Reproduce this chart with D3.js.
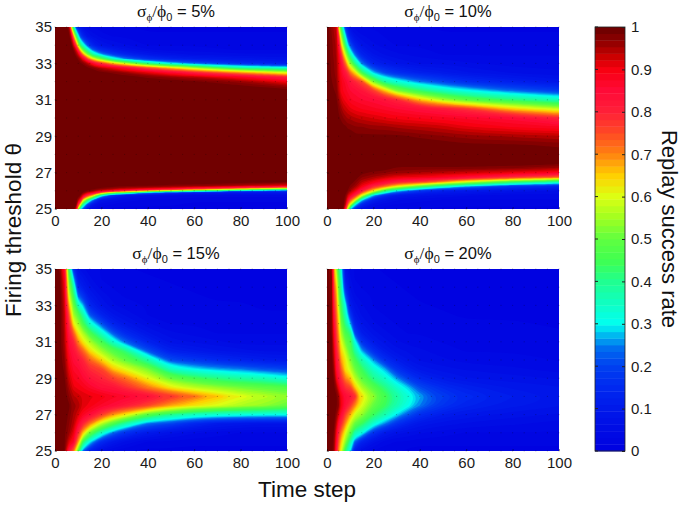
<!DOCTYPE html>
<html><head><meta charset="utf-8">
<script src="https://cdn.jsdelivr.net/npm/d3@7/dist/d3.min.js"></script>
<style>
html,body{margin:0;padding:0;background:#fff}
text{font-family:"Liberation Sans",Arial,sans-serif;fill:#111}
.axis text{font-size:15px;fill:#1a1a1a;font-family:"Liberation Sans",Arial,sans-serif}
</style></head><body><svg id="c" width="685" height="508"></svg>
<script>
// Replay success rate in percent. Each inner array is one time-step column, bottom row first.
const thetaA=[25,25.25,25.5,25.75,25.9,26,26.1,26.2,26.3,26.5,27,31.5,31.75,32,32.25,32.5,32.75,33,33.25,33.5,33.75,34,34.5,35];
const timeA=[0,5,6,7,8,9,10,11,12,14,16,18,20,25,30,40,50,60,80,100];
const valuesA=[
[100,100,100,100,100,100,100,100,100,100,100,100,100,100,100,100,100,100,100,100,100,100,100,100],
[100,100,100,100,100,100,100,100,100,100,100,100,100,100,100,100,100,100,100,100,100,100,100,100],
[100,100,100,100,100,100,100,100,100,100,100,100,100,100,100,100,100,100,100,100,100,100,100,96],
[100,100,100,100,100,100,100,100,100,100,100,100,100,100,100,100,100,100,100,100,100,100,92,62],
[100,100,100,100,100,100,100,100,100,100,100,100,100,100,100,100,100,100,100,100,98,92,68,38],
[92,100,100,100,100,100,100,100,100,100,100,100,100,100,100,100,100,100,100,97,92,78,48,20],
[55,80,95,100,100,100,100,100,100,100,100,100,100,100,100,100,100,100,98,92,78,58,32,12],
[30,60,87,98,100,100,100,100,100,100,100,100,100,100,100,100,100,99,95,82,62,42,20,8],
[22,40,65,91,98,100,100,100,100,100,100,100,100,100,100,100,100,98,90,70,50,35,14,6],
[8,20,45,78,93,98,100,100,100,100,100,100,100,100,100,100,99,94,76,52,36,22,8,4],
[4,10,28,68,89,97,99,100,100,100,100,100,100,100,100,100,98,88,64,40,25,14,6,3],
[3,6,15,50,83,93,98,100,100,100,100,100,100,100,100,100,96,82,56,32,19,10,5,3],
[2,4,8,33,70,90,97,99,100,100,100,100,100,100,100,99,94,78,50,27,15,8,4,2],
[1,3,6,18,50,83,94,98,100,100,100,100,100,100,100,98,90,66,34,19,11,6,3,2],
[1,2,4,10,45,76,92,97,99,100,100,100,100,100,100,96,86,58,26,14,8,5,3,2],
[1,2,3,6,26,62,87,96,99,100,100,100,100,100,98,91,75,40,17,9,5,3,2,1],
[1,2,3,5,18,50,82,94,98,100,100,100,100,100,96,86,66,30,13,7,4,3,2,1],
[1,1,2,4,12,41,75,91,98,100,100,100,100,99,94,80,56,24,11,6,4,3,2,1],
[1,1,2,4,9,25,60,84,95,100,100,100,99,96,88,68,38,16,9,5,3,2,2,1],
[1,1,2,4,9,20,45,75,92,99,100,100,96,90,80,59,33,12,7,5,3,2,2,1]];

const thetaB=[25,25.25,25.5,25.75,26,26.25,26.5,26.75,27,27.25,27.5,28,28.5,29,29.5,30,30.5,31,31.5,32,32.5,33,33.5,34,34.5,35];
const timeB=[0,4,5,6,7,8,9,10,12,15,20,25,30,40,50,60,80,100];
const valuesB=[
[100,100,100,100,100,100,100,100,100,100,100,100,100,100,100,100,100,100,100,100,100,100,100,100,100,100],
[100,100,100,100,100,100,100,100,100,100,100,100,100,100,100,100,100,99,98,97,96,96,95,95,94,93],
[100,100,100,100,100,100,100,100,100,100,100,100,100,100,100,99,98,96,94,93,92,91,90,85,78,62],
[100,100,100,100,100,100,100,100,100,100,100,100,100,100,100,98,96,93,90,90,88,86,80,68,56,45],
[98,100,100,100,100,100,100,100,100,100,100,100,100,100,99,97,94,91,89,88,85,79,68,55,43,30],
[80,93,96,98,100,100,100,100,100,100,100,100,100,100,99,96,93,90,88,87,82,72,57,42,30,17],
[55,72,86,93,98,100,100,100,100,100,100,100,100,100,98,95,92,89,87,85,78,62,47,30,18,10],
[30,60,75,89,95,98,100,100,100,100,100,100,100,100,98,95,91,88,86,83,72,54,37,22,12,6],
[15,32,62,80,91,96,98,100,100,100,100,100,100,99,97,94,90,87,85,80,64,41,24,13,7,4],
[6,14,30,60,81,90,94,97,99,100,100,100,100,99,97,93,89,86,83,75,45,25,13,8,5,3],
[3,6,12,28,62,80,90,95,98,100,100,100,100,99,96,92,88,85,77,52,28,13,8,5,4,3],
[2,4,7,16,42,72,86,93,97,100,100,100,100,99,96,91,87,83,66,38,20,10,6,4,3,2],
[2,3,5,10,30,62,81,91,96,98,100,100,100,99,95,90,86,80,53,33,16,8,5,3,2,2],
[2,2,4,7,18,48,78,90,95,98,100,100,100,98,94,89,84,66,43,25,12,6,4,3,2,2],
[1,2,3,6,12,36,70,88,94,98,100,100,100,97,93,88,82,56,36,20,10,6,3,2,2,1],
[1,2,3,5,10,28,60,85,93,98,100,100,99,96,91,87,78,49,31,16,8,5,3,2,2,1],
[1,2,3,4,8,18,45,78,91,97,100,100,99,95,89,85,65,42,24,12,6,4,3,2,2,1],
[1,2,3,4,6,14,38,73,88,95,99,100,98,94,88,80,58,36,19,9,5,4,3,2,2,1]];

const thetaC=[25,25.5,26,26.5,27,27.5,28,28.5,29,29.5,30,30.5,31,31.5,32,32.5,33,33.5,34,34.5,35];
const timeC=[0,2,4,6,8,10,12,15,20,25,30,40,50,60,70,80,90,100];
const valuesC=[
[100,100,100,100,100,100,100,100,100,100,100,100,100,100,100,100,100,100,100,100,100],
[100,100,100,100,100,100,100,100,100,100,100,100,100,100,100,100,100,100,99,99,98],
[99,99,99,100,100,100,100,100,99,98,97,96,95,95,94,94,93,92,91,89,86],
[82,92,96,97,98,99,97,95,93,91,89,87,85,82,79,75,68,60,55,50,43],
[72,87,91,94,95,96,94,91,89,87,85,83,80,73,62,55,50,44,38,28,17],
[48,68,79,87,92,95,93,90,88,86,83,78,70,62,55,48,36,24,15,10,7],
[24,44,66,80,88,92,92,89,86,83,80,73,63,56,46,38,28,18,11,8,5],
[12,30,50,71,85,90,91,87,83,79,73,64,56,46,34,22,14,10,7,5,4],
[5,15,35,57,77,87,90,84,80,76,65,55,46,34,22,13,8,6,4,3,3],
[3,9,24,47,69,85,88,83,76,66,56,48,34,22,13,8,5,4,3,3,2],
[2,6,17,38,63,82,87,79,72,61,50,42,24,15,9,6,4,3,3,2,2],
[1,3,10,24,48,76,84,71,61,52,38,22,13,8,5,3,3,2,2,2,1],
[1,3,7,20,40,68,78,62,50,35,21,12,7,5,3,3,2,2,2,1,1],
[1,2,5,14,35,63,72,57,45,30,18,10,6,4,3,2,2,2,1,1,1],
[1,2,4,10,33,60,66,54,41,27,15,8,5,3,3,2,2,1,1,1,1],
[1,2,3,9,32,56,61,51,38,25,13,7,4,3,2,2,2,1,1,1,1],
[1,2,3,8,31,54,57,49,36,22,11,6,4,3,2,2,1,1,1,1,1],
[1,2,3,8,31,50,54,47,32,20,10,6,4,3,2,2,1,1,1,1,1]];

const thetaD=thetaC;
const timeD=[0,2,3,4,5,6,8,10,12,15,20,25,30,35,40,50,60,80,100];
const valuesD=[
[100,100,100,100,100,100,100,100,100,100,100,100,100,100,100,100,100,100,100,100,100],
[100,100,100,100,100,100,100,100,100,100,100,99,99,98,98,98,98,97,97,97,96],
[96,97,98,99,100,100,100,99,98,96,94,92,90,88,85,83,80,78,76,72,70],
[83,87,90,94,97,99,99,96,90,86,84,82,79,77,75,73,71,69,66,61,56],
[70,74,79,85,92,97,96,90,84,81,78,74,71,68,65,62,57,53,50,47,42],
[61,66,72,80,86,91,90,84,79,74,69,65,61,56,52,48,45,41,39,36,33],
[42,53,60,69,76,84,85,78,70,63,62,57,51,46,40,35,31,22,14,10,8],
[30,38,50,58,68,78,83,76,66,58,53,48,47,41,28,18,11,8,6,5,4],
[10,23,37,50,59,70,79,66,57,51,46,39,32,20,13,9,7,5,4,3,3],
[5,13,32,44,54,60,64,56,49,44,37,27,17,11,8,6,5,4,3,3,2],
[3,7,17,33,44,50,54,48,40,34,26,16,10,7,5,4,3,3,2,2,2],
[2,4,10,25,37,44,46,41,34,27,16,10,7,5,4,3,3,2,2,2,1],
[2,3,7,17,29,37,39,34,26,17,11,7,5,4,3,3,2,2,2,1,1],
[1,3,6,12,22,31,33,28,19,12,8,6,4,3,3,2,2,2,1,1,1],
[1,2,5,9,16,25,27,21,14,9,6,5,4,3,2,2,2,1,1,1,1],
[1,2,4,7,11,17,19,15,10,7,5,4,3,2,2,2,1,1,1,1,1],
[1,2,3,6,9,13,15,12,8,6,4,3,3,2,2,1,1,1,1,1,1],
[1,2,3,5,7,10,11,9,7,5,4,3,2,2,2,1,1,1,1,1,1],
[1,2,3,4,6,8,9,8,6,4,3,3,2,2,1,1,1,1,1,1,1]];

const noiseLevels=["5%","10%","15%","20%"];
const xTicks=[0,20,40,60,80,100];
const yTicks=[25,27,29,31,33,35];
const barTicks=[0,.1,.2,.3,.4,.5,.6,.7,.8,.9,1];
const colorStops=[0,.1,.15,.2,.24,.27,.3,.4,.45,.5,.55,.6,.65,.7,.75,.8,.85,.9,.93,.96,1];
const colorHex=["#0000e0","#0018ea","#0028f0","#0040f0","#0068f0","#00b0f0","#00fff0","#20ff90","#40ff50","#60ff40","#a0ff20","#dcff14","#ffd000","#ff8410","#ff4a24","#ff2038","#ff0a38","#f80010","#cc0000","#980000","#680000"];
const meshTimes=d3.range(0,101,5);
const meshThetas=d3.range(25,36,1);

const cmap=d3.scaleLinear().domain(colorStops).range(colorHex).interpolate(d3.interpolateRgb);
const levels=d3.range(64).map(i=>i*100/64);
const svg=d3.select("#c");
const W=232,H=182;
const layout=[[55,27],[327,27],[55,269],[327,269]];
const panels=[[thetaA,timeA,valuesA],[thetaB,timeB,valuesB],[thetaC,timeC,valuesC],[thetaD,timeD,valuesD]];
const smooth=d3.line().curve(d3.curveBasisClosed);

panels.forEach(([thetas,times,vals],p)=>{
  const [ox,oy]=layout[p];
  const g=svg.append("g").attr("transform",`translate(${ox},${oy})`);
  const x=d3.scaleLinear().domain([0,100]).range([0,W]);
  const y=d3.scaleLinear().domain([25,35]).range([H,0]);
  const colIdx=d3.scaleLinear().domain(times.map((_,i)=>i)).range(times).clamp(true);
  const rowIdx=d3.scaleLinear().domain(thetas.map((_,i)=>i)).range(thetas).clamp(true);
  const flat=[];
  thetas.forEach((_,j)=>times.forEach((_,i)=>flat.push(vals[i][j])));
  const contours=d3.contours().size([times.length,thetas.length]).thresholds(levels)(flat);
  const onEdge=q=>q[0]<.01||q[0]>W-.01||q[1]<.01||q[1]>H-.01;
  const ringPath=ring=>{
    const pts=ring.slice(0,-1).map(([a,b])=>[x(colIdx(a-.5)),y(rowIdx(b-.5))]);
    return smooth(pts.flatMap(q=>onEdge(q)?[q,q,q]:[q]));
  };
  const bandPath=c=>c.coordinates.flatMap(poly=>poly.map(ringPath)).join("");
  g.append("rect").attr("width",W).attr("height",H).attr("fill",cmap(0));
  g.selectAll("path.band").data(contours).join("path").attr("class","band")
    .attr("d",bandPath).attr("fill-rule","evenodd").attr("fill",d=>cmap((d.value+100/128)/100));
  // faint mesh dots seen across the shaded surface
  const mesh=meshTimes.flatMap(t=>meshThetas.map(th=>[t,th]));
  g.append("g").selectAll("rect").data(mesh).join("rect")
    .attr("x",d=>x(d[0])-.5).attr("y",d=>y(d[1])-.5).attr("width",1).attr("height",1)
    .attr("fill","#000").attr("opacity",.28);
  const gx=g.append("g").attr("class","axis").attr("transform",`translate(0,${H})`)
    .call(d3.axisBottom(x).tickValues(xTicks).tickSize(-2).tickPadding(6));
  gx.select(".domain").remove();
  gx.selectAll("line").attr("stroke","#000").attr("stroke-opacity",.4);
  const ya=d3.axisLeft(y).tickValues(yTicks).tickSize(-2).tickPadding(3);
  if(p%2) ya.tickFormat("");
  const gy=g.append("g").attr("class","axis").call(ya);
  gy.select(".domain").remove();
  gy.selectAll("line").attr("stroke","#000").attr("stroke-opacity",.4);
  // title
  const t=g.append("text").attr("x",W/2+5).attr("y",-10).attr("text-anchor","middle").style("font-size","16.5px");
  const serif='"Liberation Serif","DejaVu Serif",serif';
  t.append("tspan").style("font-family",serif).style("font-size","17.5px").text("σ");
  t.append("tspan").attr("dy",4).style("font-family",serif).style("font-size","11px").text("ϕ");
  t.append("tspan").attr("dy",-4).style("font-family",serif).style("font-size","17.5px").text("/ϕ");
  t.append("tspan").attr("dy",4).style("font-size","11px").text("0");
  t.append("tspan").attr("dy",-4).text(" = "+noiseLevels[p]);
});

// colour bar
const bx=595,bw=30,bTop=27,bBot=451;
const by=d3.scaleLinear().domain([0,1]).range([bBot,bTop]);
const steps=d3.range(64).map(i=>i/64);
svg.append("g").selectAll("rect").data(steps).join("rect")
  .attr("x",bx).attr("width",bw)
  .attr("y",d=>by(d+1/64)).attr("height",d=>by(d)-by(d+1/64)+.4)
  .attr("fill",d=>cmap(d+1/128));
svg.append("rect").attr("x",bx).attr("y",bTop).attr("width",bw).attr("height",bBot-bTop)
  .attr("fill","none").attr("stroke","#222").attr("stroke-width",.8);
const cbAxis=svg.append("g").attr("class","axis").attr("transform",`translate(${bx+bw},0)`)
  .call(d3.axisRight(by).tickValues(barTicks).tickFormat(d=>String(d)).tickSize(-3).tickPadding(6));
cbAxis.select(".domain").remove();
cbAxis.selectAll("line").attr("stroke","#222");
svg.append("g").selectAll("line").data(barTicks).join("line")
  .attr("x1",bx).attr("x2",bx+3).attr("y1",d=>by(d)).attr("y2",d=>by(d)).attr("stroke","#222");

// axis titles
svg.append("text").attr("x",307).attr("y",497).attr("text-anchor","middle").style("font-size","22.5px").text("Time step");
svg.append("text").attr("transform","translate(21,230) rotate(-90)").attr("text-anchor","middle").style("font-size","22.5px").text("Firing threshold θ");
svg.append("text").attr("transform","translate(662,229) rotate(90)").attr("text-anchor","middle").style("font-size","22px").text("Replay success rate");
</script></body></html>
